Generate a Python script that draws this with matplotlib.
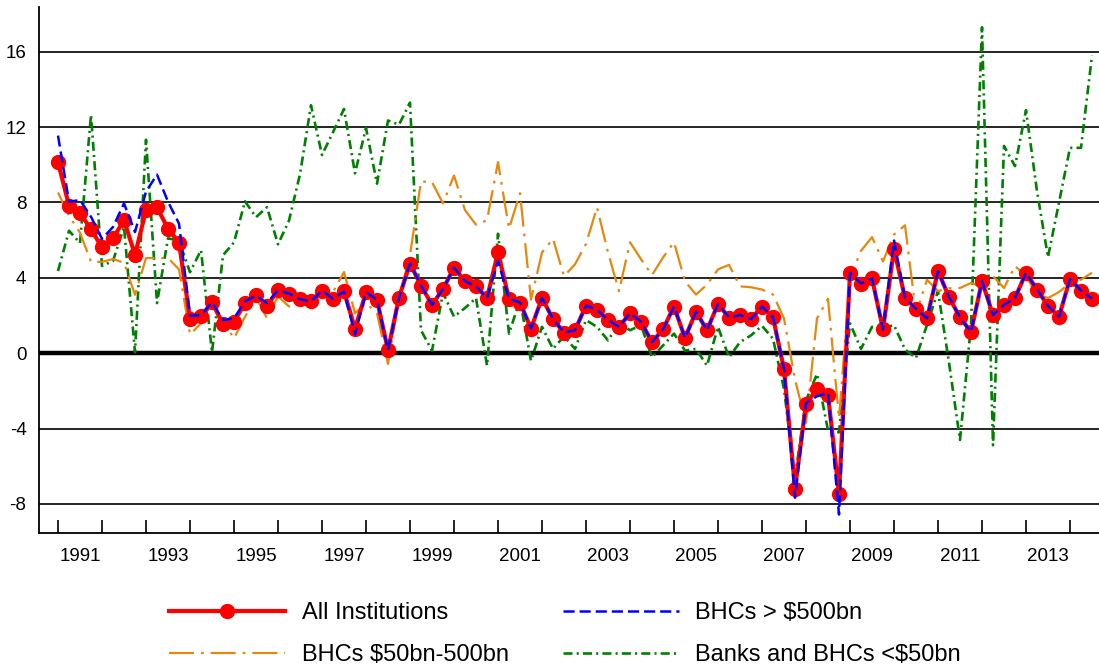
import matplotlib
matplotlib.use("Agg")
import matplotlib.pyplot as plt
import numpy as np

plt.rcParams['font.family'] = ['Liberation Sans', 'DejaVu Sans']
plt.rcParams['lines.scale_dashes'] = False
plt.rcParams['axes.unicode_minus'] = False

# Quarterly data, 1991Q1 .. 2014Q3
start_year = 1991
all_inst = [10.14, 7.83, 7.45, 6.57, 5.62, 6.10, 7.06, 5.22, 7.59, 7.74, 6.61, 5.87,
            1.82, 1.95, 2.70, 1.54, 1.67, 2.66, 3.11, 2.50, 3.35, 3.16, 2.86, 2.76,
            3.32, 2.89, 3.28, 1.31, 3.23, 2.84, 0.16, 2.95, 4.76, 3.59, 2.57, 3.41,
            4.54, 3.82, 3.55, 2.93, 5.35, 2.89, 2.69, 1.31, 2.93, 1.81, 1.10, 1.22,
            2.53, 2.30, 1.76, 1.40, 2.12, 1.67, 0.59, 1.27, 2.48, 0.81, 2.21, 1.22,
            2.62, 1.89, 2.03, 1.81, 2.48, 1.90, -0.84, -7.18, -2.69, -1.89, -2.19, -7.45,
            4.27, 3.70, 3.97, 1.26, 5.53, 2.93, 2.35, 1.85, 4.36, 2.98, 1.90, 1.13,
            3.82, 2.03, 2.57, 2.93, 4.27, 3.38, 2.51, 1.94, 3.95, 3.32, 2.89]

bhc_large = [11.55, 8.04, 8.13, 7.24, 6.07, 6.70, 7.95, 6.43, 8.58, 9.48, 8.04, 6.88,
             1.99, 2.03, 2.70, 1.76, 1.85, 2.75, 3.05, 2.66, 3.35, 3.16, 2.86, 2.76,
             3.32, 2.89, 3.28, 1.00, 3.23, 2.84, 0.16, 2.95, 4.76, 3.59, 2.57, 3.41,
             4.54, 3.82, 3.55, 2.93, 4.90, 2.89, 2.69, 1.31, 2.93, 1.81, 1.10, 1.22,
             2.53, 2.30, 1.76, 1.40, 2.12, 1.67, 0.59, 1.27, 2.48, 0.81, 2.21, 1.22,
             2.62, 1.89, 2.03, 1.81, 2.48, 1.90, -0.84, -7.67, -2.64, -2.28, -2.10, -8.56,
             4.27, 3.70, 3.97, 1.26, 5.98, 2.93, 2.35, 1.85, 4.36, 2.98, 1.90, 1.13,
             3.82, 2.03, 2.57, 2.93, 4.27, 3.38, 2.51, 1.94, 3.95, 3.32, 2.89]

bhc_mid = [8.53, 7.3, 6.4, 4.85, 4.85, 5.0, 4.8, 3.1, 5.05, 5.05, 5.05, 4.45,
           1.0, 1.58, 2.8, 1.67, 0.79, 1.93, 2.98, 1.85, 3.02, 2.48, 2.69, 2.80,
           3.25, 3.25, 4.31, 2.12, 2.66, 2.12, -0.57, 2.93, 5.2, 9.12, 9.08, 7.95,
           9.43, 7.59, 6.82, 7.06, 10.14, 6.61, 8.49, 2.84, 5.35, 6.07, 4.09, 4.72,
           5.80, 7.74, 5.35, 3.29, 5.89, 4.99, 4.15, 5.08, 5.89, 3.82, 3.11, 3.64,
           4.45, 4.69, 3.55, 3.50, 3.38, 3.11, 1.85, -1.4, -3.7, 1.85, 2.89, -3.45,
           4.0, 5.44, 6.16, 4.87, 6.3, 6.79, 2.1, 3.9, 3.3, 3.45, 3.46, 3.73,
           3.5, 4.09, 3.46, 4.63, 4.09, 3.11, 2.93, 3.25, 3.73, 3.91, 4.27]

small_banks = [4.36, 6.5, 5.85, 12.65, 4.63, 4.9, 6.7, 0.05, 11.33, 2.66, 6.1, 5.97,
               4.3, 5.47, 0.05, 5.2, 5.88, 8.06, 7.22, 7.75, 5.78, 7.04, 9.5, 13.16,
               10.52, 11.73, 12.96, 9.55, 11.95, 9.0, 12.35, 12.13, 13.3, 1.22, 0.14, 3.2,
               1.94, 2.4, 2.93, -0.66, 6.34, 1.04, 2.84, -0.4, 1.4, 0.23, 0.9, 0.23,
               1.76, 1.4, 0.68, 1.58, 1.22, 1.49, -0.22, 0.41, 1.04, 0.14, 0.23, -0.66,
               1.40, -0.22, 0.59, 0.95, 1.45, 0.77, -1.9, -6.6, -2.5, -1.1, -4.1, -4.2,
               1.58, 0.23, 1.40, 1.35, 1.49, 0.2, -0.25, 1.5, 3.3, -0.5, -4.6, 1.5,
               17.3, -4.88, 11.0, 9.93, 12.9, 8.6, 5.1, 8.0, 10.9, 10.9, 15.8]

labels = ['All Institutions', 'BHCs > $500bn', 'BHCs $50bn-500bn', 'Banks and BHCs <$50bn']

t = start_year + np.arange(len(all_inst)) / 4.0

fig = plt.figure(figsize=(10.99, 6.67), dpi=100)
ax = fig.add_axes([39 / 1099, 134 / 667, 1 - 39 / 1099, 526.3 / 667])

# horizontal grid
for yv in [-8, -4, 4, 8, 12, 16]:
    ax.axhline(yv, color='black', lw=1.2, zorder=1)
ax.axhline(0, color='black', lw=3.2, zorder=1)

l_green, = ax.plot(t, small_banks, color='#008000', lw=1.9,
                   linestyle=(0, (6.5, 3.0, 1.5, 3.0)), zorder=2, label=labels[3])
l_orange, = ax.plot(t, bhc_mid, color='#E8870E', lw=1.6,
                    linestyle=(0, (18, 5, 2, 5)), zorder=3, label=labels[2])
l_red, = ax.plot(t, all_inst, color='#FF0000', lw=3.0, marker='o', markersize=10,
                 zorder=4, label=labels[0])
l_blue, = ax.plot(t, bhc_large, color='#0000FF', lw=1.8,
                  linestyle=(0, (8, 3.6)), zorder=5, label=labels[1])

ax.set_xlim(start_year - 19 / 44, start_year + (1099 - 58) / 44)
ax.set_ylim(-9.54, 18.39)

years = np.arange(1991, 2015)
ax.set_xticks(years)
ax.set_xticklabels([])
ax.tick_params(axis='x', which='major', direction='in', length=9.5, width=1.2, color='black')
odd = np.arange(1991, 2015, 2)
ax.set_xticks(odd + 0.5, minor=True)
ax.set_xticklabels([str(y) for y in odd], minor=True)
ax.tick_params(axis='x', which='minor', length=0, pad=11, labelsize=13.5)

ax.set_yticks(np.arange(-8, 17, 4))
ax.tick_params(axis='y', length=0, pad=9, labelsize=13.5)

for s in ['top', 'right']:
    ax.spines[s].set_visible(False)
for s in ['left', 'bottom']:
    ax.spines[s].set_linewidth(1.3)

fig.legend(handles=[l_red, l_orange, l_blue, l_green], ncol=2, loc='center',
           bbox_to_anchor=(565 / 1099, 1 - 634 / 667), frameon=False, fontsize=17,
           handlelength=4.9, handletextpad=0.7, columnspacing=2.3, labelspacing=0.85)

fig.savefig('out.png', dpi=100)
